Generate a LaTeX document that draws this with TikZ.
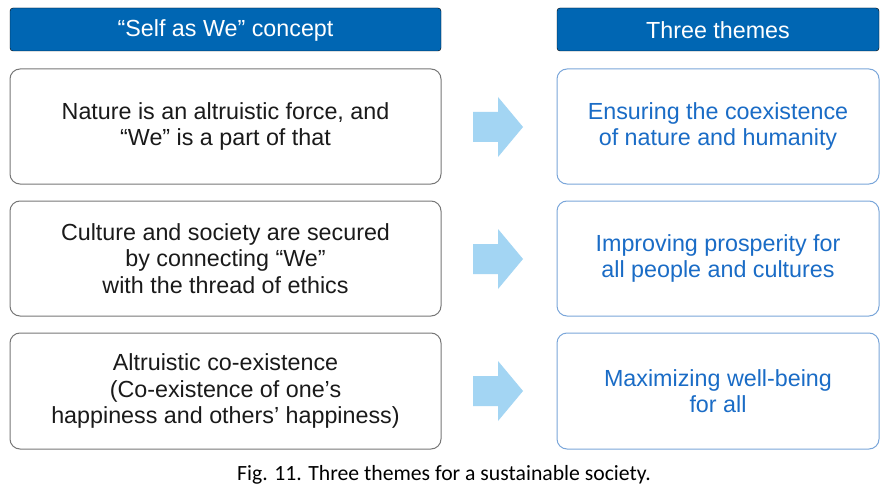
\documentclass[tikz,border=0pt]{standalone}
\usepackage{fontspec}
\setmainfont{Liberation Sans}
\newfontfamily\capfont{Carlito}
\definecolor{hdrblue}{HTML}{0066B3}
\definecolor{txtblue}{HTML}{1A6CC6}
\definecolor{rbord}{HTML}{7AA6DA}
\definecolor{lbord}{HTML}{777777}
\definecolor{arrblue}{HTML}{A3D5F3}
\definecolor{txtdark}{HTML}{1A1A1A}
\begin{document}
\begin{tikzpicture}[x=1pt,y=-1pt,
  hdr/.style={fill=hdrblue, rounded corners=3pt},
  hdrtext/.style={text=white, font=\fontsize{23.3}{26}\selectfont},
  lbox/.style={draw=lbord, line width=1pt, rounded corners=10pt, fill=white},
  rbox/.style={draw=rbord, line width=1pt, rounded corners=10pt, fill=white},
  ltext/.style={text=txtdark, align=center, font=\fontsize{23.3}{26.6}\selectfont},
  rtext/.style={text=txtblue, align=center, font=\fontsize{23.3}{26.6}\selectfont},
  bigarrow/.style={fill=arrblue}
]
\useasboundingbox (0,0) rectangle (889,500);
\fill[white] (0,0) rectangle (889,500);
% headers
\draw[hdr] (10,8) rectangle (441,51);
\node[hdrtext] (hl) at (225.5,30) {“Self as We” concept};
\draw[hdr] (557,8) rectangle (879,51);
\node[hdrtext] (hr) at (718,30) {Three themes};
% left boxes
\draw[lbox] (10,69) rectangle (441,184);
\node[ltext] (l1) at (225.5,126.5) {Nature is an altruistic force, and\\“We” is a part of that};
\draw[lbox] (10,201) rectangle (441,316);
\node[ltext] (l2) at (225.5,258.5) {Culture and society are secured\\by connecting “We”\\with the thread of ethics};
\draw[lbox] (10,333) rectangle (441,449);
\node[ltext] (l3) at (225.5,391) {Altruistic co-existence\\(Co-existence of one’s\\happiness and others’ happiness)};
% right boxes
\draw[rbox] (557,69) rectangle (879,184);
\node[rtext] (r1) at (718,126.5) {Ensuring the coexistence\\of nature and humanity};
\draw[rbox] (557,201) rectangle (879,316);
\node[rtext] (r2) at (718,258.5) {Improving prosperity for\\all people and cultures};
\draw[rbox] (557,333) rectangle (879,449);
\node[rtext] (r3) at (718,391) {Maximizing well-being\\for all};
% arrows
\foreach \y in {127,259,391}{
  \fill[bigarrow] (473,\y-15) -- (498,\y-15) -- (498,\y-30) -- (523,\y) -- (498,\y+30) -- (498,\y+15) -- (473,\y+15) -- cycle;
}
% caption
\node[font=\capfont\fontsize{21.7}{24}\selectfont, text=black] (cap) at (444,475) {Fig. 11. Three themes for a sustainable society.};
\end{tikzpicture}
\end{document}
